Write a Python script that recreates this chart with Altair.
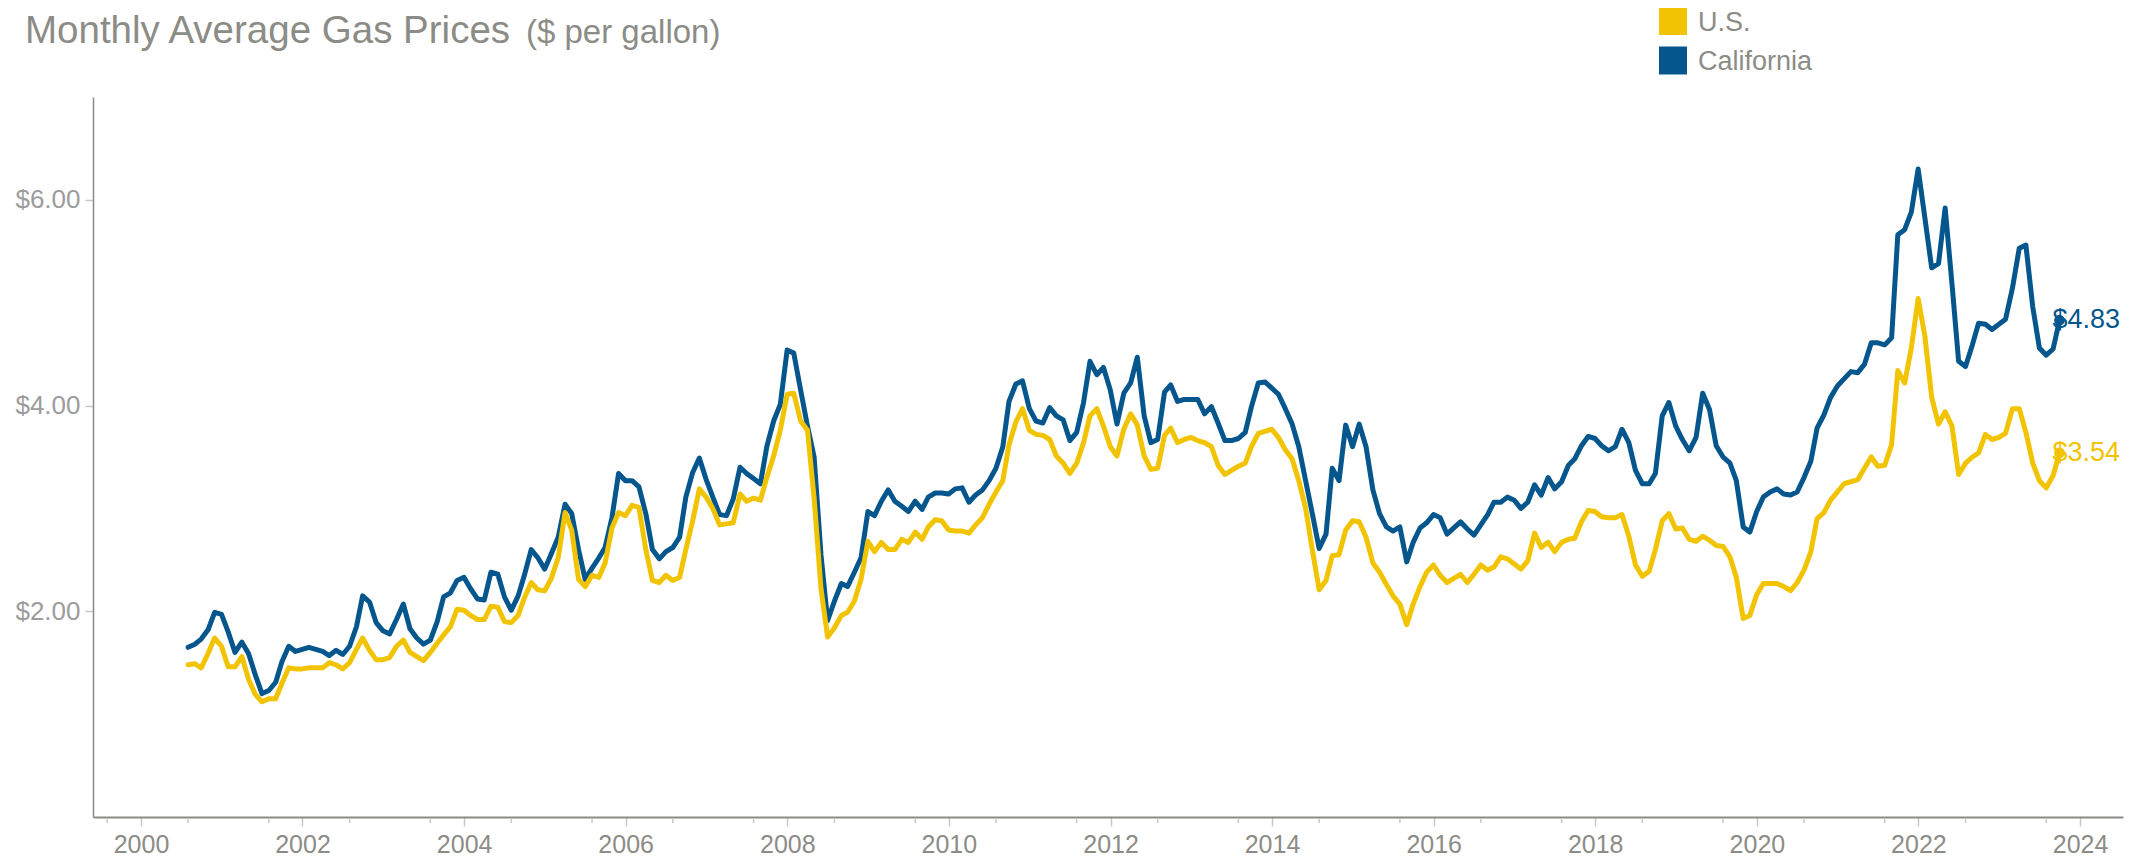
import altair as alt
import pandas as pd

# ---------------- data ----------------
start_month = "2001-01-01"

us_price = [
    1.48, 1.49, 1.45, 1.59, 1.74, 1.66, 1.46, 1.46, 1.56, 1.34,
    1.19, 1.12, 1.15, 1.15, 1.30, 1.45, 1.44, 1.44, 1.45, 1.45,
    1.45, 1.50, 1.48, 1.44, 1.50, 1.63, 1.74, 1.62, 1.53, 1.53,
    1.55, 1.66, 1.72, 1.60, 1.56, 1.52, 1.60, 1.69, 1.77, 1.85,
    2.02, 2.01, 1.96, 1.92, 1.92, 2.05, 2.04, 1.90, 1.89, 1.96,
    2.13, 2.28, 2.21, 2.20, 2.32, 2.52, 2.96, 2.79, 2.31, 2.24,
    2.35, 2.33, 2.47, 2.81, 2.96, 2.93, 3.03, 3.01, 2.60, 2.30,
    2.28, 2.35, 2.30, 2.33, 2.60, 2.88, 3.19, 3.11, 3.00, 2.84,
    2.85, 2.86, 3.14, 3.07, 3.10, 3.08, 3.30, 3.51, 3.76, 4.11,
    4.12, 3.85, 3.76, 3.10, 2.22, 1.75, 1.84, 1.96, 1.99, 2.10,
    2.31, 2.68, 2.58, 2.67, 2.60, 2.60, 2.70, 2.67, 2.77, 2.70,
    2.82, 2.89, 2.88, 2.79, 2.78, 2.78, 2.76, 2.84, 2.91, 3.04,
    3.16, 3.27, 3.62, 3.84, 3.97, 3.76, 3.72, 3.71, 3.67, 3.51,
    3.44, 3.34, 3.44, 3.64, 3.90, 3.97, 3.80, 3.60, 3.51, 3.77,
    3.92, 3.81, 3.51, 3.38, 3.39, 3.71, 3.78, 3.64, 3.67, 3.69,
    3.66, 3.64, 3.60, 3.42, 3.33, 3.37, 3.41, 3.44, 3.60, 3.73,
    3.75, 3.77, 3.69, 3.57, 3.48, 3.27, 3.00, 2.60, 2.21, 2.30,
    2.54, 2.55, 2.79, 2.88, 2.87, 2.72, 2.47, 2.38, 2.26, 2.15,
    2.07, 1.87, 2.07, 2.24, 2.38, 2.45, 2.35, 2.28, 2.32, 2.36,
    2.28, 2.36, 2.45, 2.40, 2.43, 2.53, 2.51, 2.46, 2.41, 2.49,
    2.76, 2.62, 2.67, 2.58, 2.67, 2.70, 2.71, 2.87, 2.98, 2.97,
    2.92, 2.91, 2.91, 2.94, 2.73, 2.45, 2.34, 2.39, 2.60, 2.88,
    2.95, 2.80, 2.81, 2.70, 2.68, 2.73, 2.69, 2.64, 2.63, 2.53,
    2.33, 1.93, 1.96, 2.16, 2.27, 2.27, 2.27, 2.24, 2.20, 2.28,
    2.40, 2.58, 2.90, 2.96, 3.08, 3.16, 3.24, 3.26, 3.28, 3.39,
    3.50, 3.41, 3.42, 3.62, 4.34, 4.22, 4.56, 5.04, 4.68, 4.08,
    3.82, 3.94, 3.80, 3.33, 3.44, 3.50, 3.54, 3.72, 3.67, 3.69,
    3.73, 3.97, 3.97, 3.74, 3.44, 3.27, 3.20, 3.32, 3.54,
]

ca_price = [
    1.65, 1.68, 1.73, 1.82, 1.99, 1.97, 1.80, 1.60, 1.70, 1.59,
    1.38, 1.20, 1.23, 1.31, 1.51, 1.66, 1.61, 1.63, 1.65, 1.63,
    1.61, 1.57, 1.62, 1.58, 1.66, 1.85, 2.15, 2.09, 1.89, 1.81,
    1.78, 1.92, 2.07, 1.83, 1.74, 1.68, 1.72, 1.90, 2.14, 2.18,
    2.30, 2.33, 2.22, 2.12, 2.11, 2.38, 2.36, 2.14, 2.01, 2.15,
    2.35, 2.60, 2.52, 2.41, 2.56, 2.72, 3.04, 2.95, 2.60, 2.31,
    2.42, 2.52, 2.62, 2.91, 3.34, 3.27, 3.27, 3.21, 2.95, 2.60,
    2.51, 2.58, 2.62, 2.72, 3.11, 3.35, 3.49, 3.28, 3.11, 2.94,
    2.93, 3.09, 3.40, 3.34, 3.29, 3.24, 3.60, 3.85, 4.01, 4.54,
    4.51, 4.15, 3.80, 3.50, 2.55, 1.91, 2.10, 2.27, 2.24, 2.38,
    2.52, 2.97, 2.93, 3.07, 3.18, 3.07, 3.02, 2.97, 3.07, 2.99,
    3.11, 3.15, 3.15, 3.14, 3.19, 3.20, 3.06, 3.13, 3.18, 3.27,
    3.39, 3.60, 4.04, 4.21, 4.24, 3.97, 3.85, 3.83, 3.98, 3.90,
    3.86, 3.66, 3.74, 4.03, 4.43, 4.30, 4.37, 4.15, 3.82, 4.12,
    4.22, 4.47, 3.90, 3.64, 3.67, 4.13, 4.20, 4.04, 4.06, 4.06,
    4.06, 3.92, 3.99, 3.83, 3.66, 3.66, 3.68, 3.74, 3.99, 4.22,
    4.23, 4.17, 4.11, 3.97, 3.82, 3.60, 3.27, 2.95, 2.61, 2.75,
    3.39, 3.27, 3.81, 3.60, 3.82, 3.60, 3.18, 2.95, 2.82, 2.78,
    2.82, 2.48, 2.67, 2.81, 2.86, 2.94, 2.91, 2.75, 2.81, 2.87,
    2.80, 2.74, 2.84, 2.94, 3.06, 3.06, 3.11, 3.08, 3.00, 3.06,
    3.23, 3.13, 3.30, 3.19, 3.26, 3.42, 3.48, 3.61, 3.70, 3.68,
    3.61, 3.56, 3.60, 3.77, 3.64, 3.37, 3.24, 3.24, 3.34, 3.90,
    4.03, 3.80, 3.67, 3.56, 3.69, 4.12, 3.96, 3.61, 3.50, 3.44,
    3.27, 2.82, 2.77, 2.97, 3.11, 3.16, 3.19, 3.14, 3.13, 3.16,
    3.30, 3.46, 3.78, 3.91, 4.08, 4.19, 4.26, 4.33, 4.32, 4.40,
    4.61, 4.61, 4.59, 4.66, 5.66, 5.71, 5.88, 6.30, 5.83, 5.34,
    5.38, 5.92, 5.18, 4.43, 4.38, 4.59, 4.80, 4.79, 4.74, 4.79,
    4.84, 5.14, 5.53, 5.56, 4.96, 4.56, 4.49, 4.55, 4.83,
]

series_names = ["U.S.", "California"]
series_colors = ["#F2C300", "#04568D"]
major_tick_years = list(range(2000, 2025, 2))   # labelled ticks
minor_tick_years = list(range(2000, 2025))      # small yearly ticks
y_tick_values = [2, 4, 6]
title_main = "Monthly Average Gas Prices"
title_sub = "($ per gallon)"

# ---------------- styling ----------------
FONT = "Liberation Sans, Arial, Helvetica, sans-serif"
GRAY_TEXT = "#8c8c87"
GRAY_LIGHT = "#9c9c9c"
TICK_GRAY = "#c8c8c8"
AXIS_GRAY = "#8a8a86"
W, H = 2030, 720

months = pd.date_range(start_month, periods=len(us_price), freq="MS")
frames = []
for name, vals in zip(series_names, [us_price, ca_price]):
    frames.append(pd.DataFrame({"date": months, "price": vals, "series": name}))
df = pd.concat(frames, ignore_index=True)
last = df[df["date"] == months[-1]].copy()
last["label"] = last["price"].map(lambda v: f"${v:.2f}")

x_scale = alt.Scale(
    domain=[alt.DateTime(year=1999, month=10, date=29),
            alt.DateTime(year=2024, month=12, date=13)],
    nice=False,
)
y_scale = alt.Scale(domain=[0, 7], nice=False, zero=True)
color_scale = alt.Scale(domain=series_names, range=series_colors)

x_axis = alt.Axis(
    values=[alt.DateTime(year=y, month=6, date=2) for y in major_tick_years],
    format="%Y", title=None, grid=False,
    domainColor=AXIS_GRAY, domainWidth=2,
    tickColor=TICK_GRAY, tickSize=9, tickWidth=1.5,
    labelFont=FONT, labelFontSize=25, labelColor=GRAY_TEXT, labelPadding=6,
)
y_axis = alt.Axis(
    values=y_tick_values, format="$.2f", title=None, grid=False,
    domainColor=AXIS_GRAY, domainWidth=1.5,
    tickColor=TICK_GRAY, tickSize=8, tickWidth=1.5,
    labelFont=FONT, labelFontSize=26, labelColor=GRAY_LIGHT, labelPadding=5,
)

base = alt.Chart(df)
layers = []

# lines: California first, U.S. drawn on top
for name in ["California", "U.S."]:
    layers.append(
        base.transform_filter(alt.datum.series == name)
        .mark_line(strokeWidth=5, strokeJoin="round", strokeCap="round")
        .encode(
            x=alt.X("date:T", scale=x_scale, axis=x_axis),
            y=alt.Y("price:Q", scale=y_scale, axis=y_axis),
            color=alt.Color("series:N", scale=color_scale, legend=None),
        )
    )

# minor yearly ticks under the x axis
minor_df = pd.DataFrame({"date": pd.to_datetime([f"{y}-01-01" for y in minor_tick_years])})
layers.append(
    alt.Chart(minor_df).mark_rule(color=TICK_GRAY, strokeWidth=1.5).encode(
        x=alt.X("date:T", scale=x_scale, axis=x_axis),
        y=alt.value(H + 1),
        y2=alt.value(H + 6),
    )
)

# end dots and value labels
layers.append(
    alt.Chart(last).mark_circle(size=115, opacity=1).encode(
        x=alt.X("date:T", scale=x_scale, axis=x_axis),
        y=alt.Y("price:Q", scale=y_scale, axis=y_axis),
        color=alt.Color("series:N", scale=color_scale, legend=None),
    )
)
layers.append(
    alt.Chart(last).mark_text(align="left", baseline="middle", dx=-7, font=FONT, fontSize=27).encode(
        x=alt.X("date:T", scale=x_scale, axis=x_axis),
        y=alt.Y("price:Q", scale=y_scale, axis=y_axis),
        text="label:N",
        color=alt.Color("series:N", scale=color_scale, legend=None),
    )
)

# title
layers.append(
    alt.Chart(pd.DataFrame({"t": [title_main]})).mark_text(
        align="left", baseline="alphabetic", font=FONT, fontSize=38.5, color=GRAY_TEXT
    ).encode(x=alt.value(-68), y=alt.value(-54), text="t:N")
)
layers.append(
    alt.Chart(pd.DataFrame({"t": [title_sub]})).mark_text(
        align="left", baseline="alphabetic", font=FONT, fontSize=33, color=GRAY_TEXT
    ).encode(x=alt.value(433), y=alt.value(-54), text="t:N")
)

# legend (manual, top right)
for i, (name, col) in enumerate(zip(series_names, series_colors)):
    top = -90 + i * 39.5
    layers.append(
        alt.Chart(pd.DataFrame({"s": [name]})).mark_rect(color=col).encode(
            x=alt.value(1566), x2=alt.value(1594), y=alt.value(top), y2=alt.value(top + 28)
        )
    )
    layers.append(
        alt.Chart(pd.DataFrame({"s": [name]})).mark_text(
            align="left", baseline="alphabetic", font=FONT, fontSize=27, color=GRAY_TEXT
        ).encode(x=alt.value(1605), y=alt.value(top + 23.5), text="s:N")
    )

chart = (
    alt.layer(*layers)
    .properties(
        width=W, height=H,
        autosize=alt.AutoSizeParams(type="none"),
        padding={"left": 85, "top": 89, "right": 12, "bottom": 46},
        background="white",
    )
    .configure_view(stroke=None)
)

chart.save("out.html", embed_options={"renderer": "svg", "actions": False})
